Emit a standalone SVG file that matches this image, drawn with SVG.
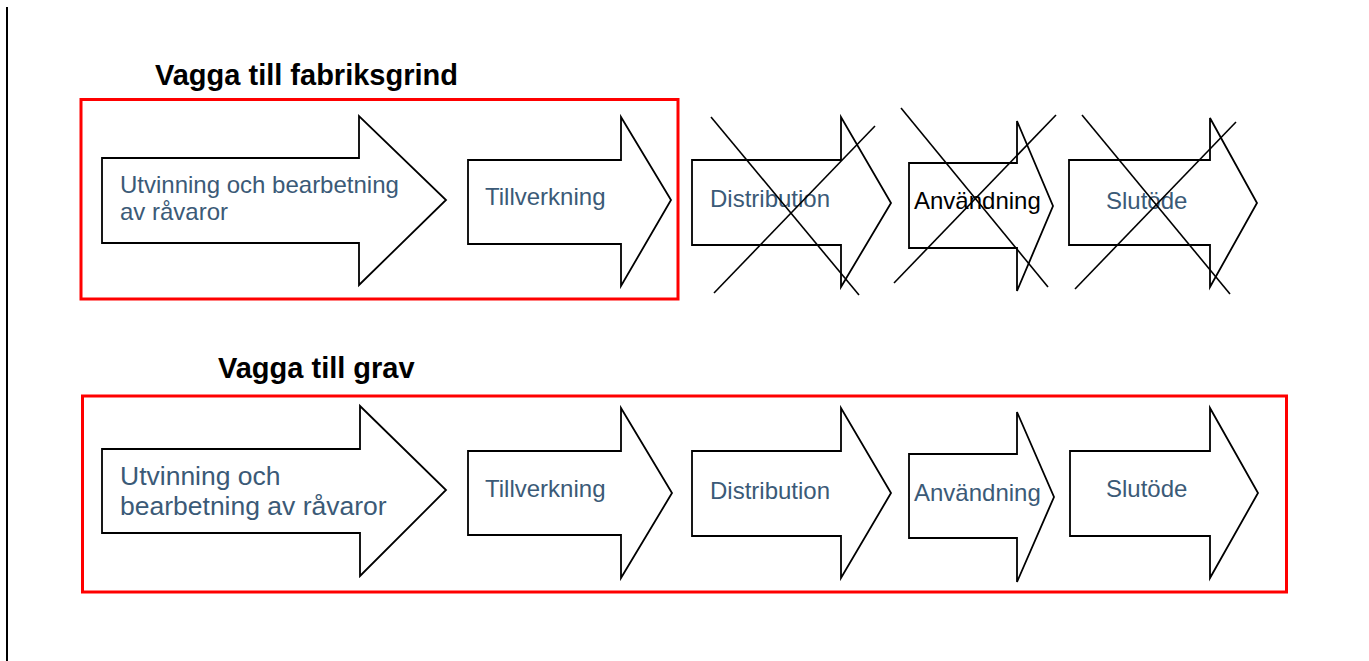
<svg xmlns="http://www.w3.org/2000/svg" width="1369" height="661" viewBox="0 0 1369 661">
<style>
.arrow{fill:#fff;stroke:#000;stroke-width:1.8;stroke-linejoin:miter}
.frame{fill:none;stroke:#ff0000;stroke-width:3}
.cross{stroke:#000;stroke-width:1.6;fill:none}
.title{font-family:"Liberation Sans",Arial,sans-serif;font-weight:bold;font-size:29px;fill:#000}
.lbl{font-family:"Liberation Sans",Arial,sans-serif;font-size:24px;fill:#3b5a77}
.big{font-size:26.5px}
.blk{fill:#000}
</style>
<rect width="1369" height="661" fill="#fff"/>
<line x1="7" y1="7" x2="7" y2="661" stroke="#000" stroke-width="2"/>

<g id="section-cradle-to-gate">
<text class="title" x="155" y="85">Vagga till fabriksgrind</text>
<rect class="frame" x="81" y="99.5" width="597" height="199.5"/>
</g>

<g id="t-utvinning">
<polygon class="arrow" points="102,158 359,158 359,116 446,200 359,285 359,243 102,243"/>
<text class="lbl" x="120" y="193">Utvinning och bearbetning</text>
<text class="lbl" x="120" y="220">av råvaror</text>
</g>
<g id="t-tillverkning">
<polygon class="arrow" points="468,160 621,160 621,117 671,200 621,286 621,244 468,244"/>
<text class="lbl" x="485" y="205">Tillverkning</text>
</g>
<g id="t-distribution">
<polygon class="arrow" points="692,160 841,160 841,117 891,203 841,287 841,245 692,245"/>
<text class="lbl" x="710" y="207">Distribution</text>
</g>
<g id="t-anvandning">
<polygon class="arrow" points="909,163 1017,163 1017,121 1053,206 1017,291 1017,248 909,248"/>
<text class="lbl blk" x="914" y="209">Användning</text>
</g>
<g id="t-slutode">
<polygon class="arrow" points="1069,160 1210,160 1210,118 1257,203 1210,287 1210,245 1069,245"/>
<text class="lbl" x="1106" y="209">Slutöde</text>
</g>

<g id="crosses">
<line class="cross" x1="711" y1="117" x2="859" y2="295"/>
<line class="cross" x1="875" y1="126" x2="714" y2="293"/>
<line class="cross" x1="901" y1="108" x2="1048" y2="287"/>
<line class="cross" x1="1056" y1="115" x2="894" y2="283"/>
<line class="cross" x1="1082" y1="115" x2="1230" y2="294"/>
<line class="cross" x1="1236" y1="122" x2="1075" y2="289"/>
</g>

<g id="section-cradle-to-grave">
<text class="title" x="218" y="378">Vagga till grav</text>
<rect class="frame" x="82.5" y="396" width="1204" height="196"/>
</g>

<g id="b-utvinning">
<polygon class="arrow" points="102,449 360,449 360,406 446,490 360,576 360,533 102,533"/>
<text class="lbl big" x="120" y="485">Utvinning och</text>
<text class="lbl big" x="120" y="515">bearbetning av råvaror</text>
</g>
<g id="b-tillverkning">
<polygon class="arrow" points="468,451 621,451 621,408 672,493 621,578 621,535 468,535"/>
<text class="lbl" x="485" y="497">Tillverkning</text>
</g>
<g id="b-distribution">
<polygon class="arrow" points="692,451 841,451 841,408 891,493 841,578 841,536 692,536"/>
<text class="lbl" x="710" y="499">Distribution</text>
</g>
<g id="b-anvandning">
<polygon class="arrow" points="909,454 1017,454 1017,412 1054,497 1017,582 1017,538 909,538"/>
<text class="lbl" x="914" y="501">Användning</text>
</g>
<g id="b-slutode">
<polygon class="arrow" points="1070,451 1210,451 1210,408 1258,493 1210,578 1210,536 1070,536"/>
<text class="lbl" x="1106" y="497">Slutöde</text>
</g>
</svg>
